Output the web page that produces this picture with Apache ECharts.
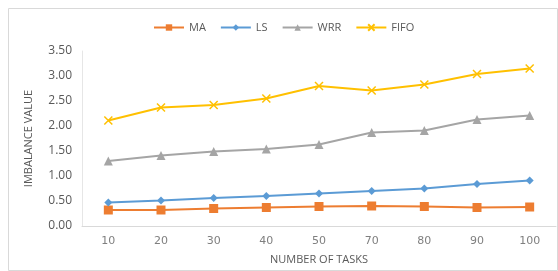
<!DOCTYPE html>
<html>
<head>
<meta charset="utf-8">
<script src="https://cdn.jsdelivr.net/npm/echarts@6/dist/echarts.min.js"></script>
<style>
html, body { margin: 0; padding: 0; background: #fff; }
#chart { width: 558px; height: 271px; }
</style>
</head>
<body>
<div id="chart"></div>
<script>
var categories = ['10', '20', '30', '40', '50', '70', '80', '90', '100'];
var maValues = [0.32, 0.32, 0.35, 0.37, 0.39, 0.40, 0.39, 0.37, 0.38];
var lsValues = [0.47, 0.51, 0.56, 0.60, 0.65, 0.70, 0.75, 0.84, 0.91];
var wrrValues = [1.30, 1.41, 1.49, 1.54, 1.63, 1.87, 1.91, 2.13, 2.21];
var fifoValues = [2.11, 2.37, 2.42, 2.55, 2.80, 2.71, 2.83, 3.04, 3.15];

var xSymbol = 'path://M0,0L10,10M10,0L0,10';

function initGraph(chartId) {
	var dom = document.getElementById(chartId);
	var myChart = echarts.init(dom);
	var font = 'Open Sans';

	function line(name, data, color, symbol, size) {
		return {
			name: name,
			type: 'line',
			data: data,
			symbol: symbol,
			symbolSize: size,
			showSymbol: true,
			lineStyle: { color: color, width: 2 },
			itemStyle: { color: color, borderColor: color, borderWidth: symbol === xSymbol ? 1.5 : 0 },
			animation: false
		};
	}

	var option = {
		color: ['#ED7D31', '#5B9BD5', '#A5A5A5', '#FFC000'],
		textStyle: { fontFamily: font },
		graphic: [{
			type: 'rect',
			shape: { x: 8.5, y: 8.5, width: 549, height: 262 },
			style: { fill: 'none', stroke: '#d9d9d9', lineWidth: 1 },
			silent: true
		}],
		legend: {
			top: 17,
			left: 148,
			itemGap: 14,
			itemWidth: 30,
			itemHeight: 8,
			textStyle: { color: '#595959', fontSize: 11, fontFamily: font },
			data: ['MA', 'LS', 'WRR', 'FIFO']
		},
		grid: {
			left: 82,
			right: 2,
			top: 51,
			bottom: 45
		},
		xAxis: {
			type: 'category',
			boundaryGap: true,
			data: categories,
			name: 'NUMBER OF TASKS',
			nameLocation: 'middle',
			nameGap: 28,
			nameTextStyle: { color: '#595959', fontSize: 11, fontFamily: font },
			axisLine: { lineStyle: { color: '#d9d9d9' } },
			axisTick: { show: false },
			axisLabel: { color: '#7f7f7f', fontSize: 11, margin: 10, fontFamily: 'DejaVu Sans' }
		},
		yAxis: {
			type: 'value',
			min: 0,
			max: 3.5,
			interval: 0.5,
			name: 'IMBALANCE VALUE',
			nameLocation: 'middle',
			nameGap: 48,
			nameRotate: 90,
			nameTextStyle: { color: '#595959', fontSize: 11, fontFamily: font },
			axisLine: { show: true, lineStyle: { color: '#e6e6e6' } },
			axisTick: { show: false },
			splitLine: { show: false },
			axisLabel: {
				color: '#595959',
				fontSize: 12,
				margin: 10,
				formatter: function(v) { return v.toFixed(2); }
			}
		},
		series: [
			line('MA', maValues, '#ED7D31', 'rect', 9),
			line('LS', lsValues, '#5B9BD5', 'diamond', 8),
			line('WRR', wrrValues, '#A5A5A5', 'triangle', 9),
			line('FIFO', fifoValues, '#FFC000', xSymbol, 8)
		]
	};

	myChart.setOption(option, true);
}

onload = function() {
	initGraph('chart');
}
</script>
</body>
</html>
